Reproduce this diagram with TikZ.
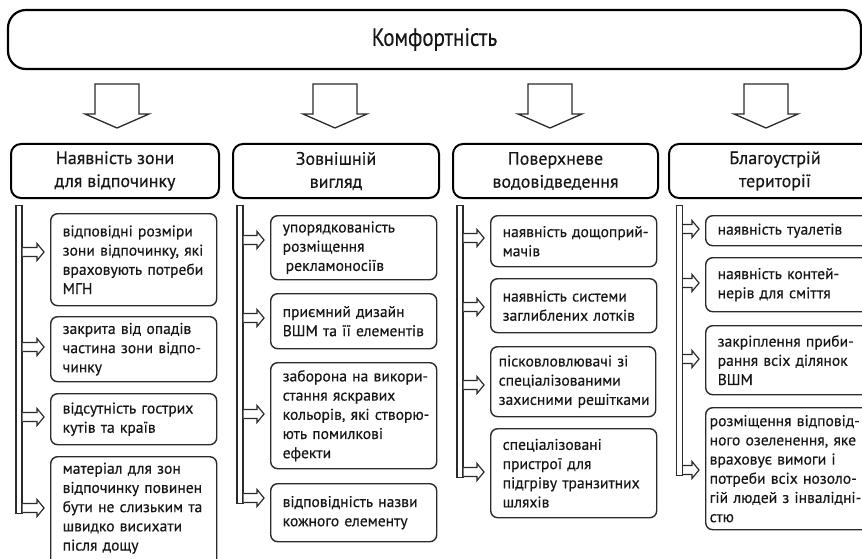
\documentclass[tikz,border=0pt]{standalone}
\usepackage{fontspec}
\setmainfont{PT Sans}[FakeBold=0.35]
\usetikzlibrary{calc}
\definecolor{ink}{HTML}{161616}
\definecolor{edge}{HTML}{2B2B2B}
\tikzset{
  x=1pt, y=-1pt,
  every node/.style={text=ink},
  titlebox/.style={draw=black, line width=2.2pt, rounded corners=18pt,
    inner sep=0pt, font=\fontsize{25}{28}\selectfont\addfontfeature{FakeStretch=0.84}},
  headbox/.style={draw=black, line width=2pt, rounded corners=10pt,
    anchor=north west, align=center, inner sep=0pt, minimum height=54pt,
    font=\fontsize{18}{23}\selectfont},
  itembox/.style={draw=edge, line width=1.4pt, rounded corners=7pt,
    anchor=north west, align=left, inner xsep=12pt, inner ysep=0pt,
    font=\fontsize{15.6}{19.2}\selectfont,
    execute at begin node={\exhyphenpenalty=10000\relax\hyphenpenalty=10000\relax}},
  colA/.style={itembox, text width=142pt},
  colD/.style={itembox, text width=151pt},
  railbar/.style={draw=edge, line width=1.2pt, anchor=north,
    minimum width=6pt, inner sep=0pt},
  % hollow block arrow pointing down, from a start point to a node's top
  downarrow/.style={draw=edge, line width=1.3pt, fill=white,
    to path={let \p1=(\tikztostart), \p2=(\tikztotarget) in
      (\x1-22pt,\y1) -- (\x1+22pt,\y1) -- (\x1+22pt,\y2+29pt)
      -- (\x1+32pt,\y2+29pt) -- (\x1,\y2+15pt) -- (\x1-32pt,\y2+29pt)
      -- (\x1-22pt,\y2+29pt) -- cycle}},
  % hollow block arrow pointing right, from the rail to a box
  sidearrow/.style={draw=edge, line width=1.2pt, fill=white,
    to path={let \p1=(\tikztostart), \p2=(\tikztotarget) in
      (\x1,\y1+4.5pt) -- (\x2-13pt,\y1+4.5pt) -- (\x2-13pt,\y1+8.5pt)
      -- (\x2-6pt,\y1) -- (\x2-13pt,\y1-8.5pt) -- (\x2-13pt,\y1-4.5pt)
      -- (\x1,\y1-4.5pt)}}
}
\begin{document}
\begin{tikzpicture}
\useasboundingbox (0,0) rectangle (862,559);
\clip (0,0) rectangle (862,559);

% main heading
\node[titlebox, minimum width=853pt, minimum height=59pt] (top) at (434.5,39.5) {Комфортність};

% group headings
\node[headbox, minimum width=208pt] (h1) at (10,143) {Наявність зони\\для відпочинку};
\node[headbox, minimum width=206pt] (h2) at (232,143) {Зовнішній\\вигляд};
\node[headbox, minimum width=205pt] (h3) at (452,143) {Поверхневе\\водовідведення};
\node[headbox, minimum width=212pt] (h4) at (668,143) {Благоустрій\\території};

% arrows from the main heading
\coordinate (s1) at (117,84);
\coordinate (s2) at (335,84);
\coordinate (s3) at (550,84);
\coordinate (s4) at (766,84);
\draw[downarrow] (s1) to (h1.north);
\draw[downarrow] (s2) to (h2.north);
\draw[downarrow] (s3) to (h3.north);
\draw[downarrow] (s4) to (h4.north);

% rails
\node[railbar, minimum height=307.5pt] (r1) at (19,205) {};
\node[railbar, minimum height=297.5pt] (r2) at (240,205) {};
\node[railbar, minimum height=271.5pt] (r3) at (460,205) {};
\node[railbar, minimum height=269.5pt] (r4) at (679.5,205) {};

% column 1 (ties keep each printed line whole)
\node[colA, minimum height=92pt] (b11) at (50,213) {відповідні~розміри\\зони~відпочинку,~які\\враховують~потреби\\МГН};
\node[colA, minimum height=65pt] (b12) at (50,316) {закрита~від~опадів\\частина~зони~відпо-\\чинку};
\node[colA, minimum height=51pt] (b13) at (50,393) {відсутність~гострих\\кутів~та~країв};
\node[colA, inner ysep=6pt, execute at end node={\par\vspace*{40pt}}] (b14) at (50,456) {матеріал~для~зон\\відпочинку~повинен\\бути~не~слизьким~та\\швидко~висихати\\після~дощу};

% column 2
\node[colA, minimum height=64pt] (b21) at (270,215) {упорядкованість\\розміщення\\\hspace*{3pt}рекламоносіїв};
\node[colA, minimum height=55pt] (b22) at (270,293) {приємний~дизайн\\ВШМ~та~її~елементів};
\node[colA, minimum height=106pt] (b23) at (270,362) {заборона~на~викори-\\стання~яскравих\\кольорів,~які~створю-\\ють~помилкові\\ефекти};
\node[colA, minimum height=58pt] (b24) at (270,483) {відповідність~назви\\кожного~елементу};

% column 3
\node[colA, minimum height=51pt] (b31) at (490,215) {наявність~дощоприй-\\мачів};
\node[colA, minimum height=54pt] (b32) at (490,278) {наявність~системи\\заглиблених~лотків};
\node[colA, minimum height=70pt, inner xsep=8pt, text width=149pt] (b33) at (490,346) {пісковловлювачі~зі\\спеціалізованими\\захисними~решітками};
\node[colA, minimum height=89pt] (b34) at (490,428) {спеціалізовані\\пристрої~для\\підгріву~транзитних\\шляхів};

% column 4
\node[colD, minimum height=30pt] (b41) at (705,215) {наявність~туалетів};
\node[colD, minimum height=54pt] (b42) at (705,257) {наявність~контей-\\нерів~для~сміття};
\node[colD, minimum height=69pt] (b43) at (705,325) {закріплення~приби-\\рання~всіх~ділянок\\ВШМ};
\node[colD, minimum height=122pt, inner xsep=4pt, text width=167pt] (b44) at (705,407) {розміщення~відповід-\\ного~озеленення,~яке\\враховує~вимоги~і\\потреби~всіх~нозоло-\\гій~людей~з~інвалідні-\\стю};

% arrows from the rails to the boxes
\draw[sidearrow] (r1.east |- 0,252) to (b11.west);
\draw[sidearrow] (r1.east |- 0,347) to (b12.west);
\draw[sidearrow] (r1.east |- 0,417) to (b13.west);
\draw[sidearrow] (r1.east |- 0,508) to (b14.west);

\draw[sidearrow] (r2.east |- 0,240) to (b21.west);
\draw[sidearrow] (r2.east |- 0,318) to (b22.west);
\draw[sidearrow] (r2.east |- 0,414) to (b23.west);
\draw[sidearrow] (r2.east |- 0,498) to (b24.west);

\draw[sidearrow] (r3.east |- 0,238) to (b31.west);
\draw[sidearrow] (r3.east |- 0,307) to (b32.west);
\draw[sidearrow] (r3.east |- 0,385) to (b33.west);
\draw[sidearrow] (r3.east |- 0,472) to (b34.west);

\draw[sidearrow] (r4.east |- 0,229) to (b41.west);
\draw[sidearrow] (r4.east |- 0,283) to (b42.west);
\draw[sidearrow] (r4.east |- 0,359) to (b43.west);
\draw[sidearrow] (r4.east |- 0,470) to (b44.west);
\end{tikzpicture}
\end{document}
